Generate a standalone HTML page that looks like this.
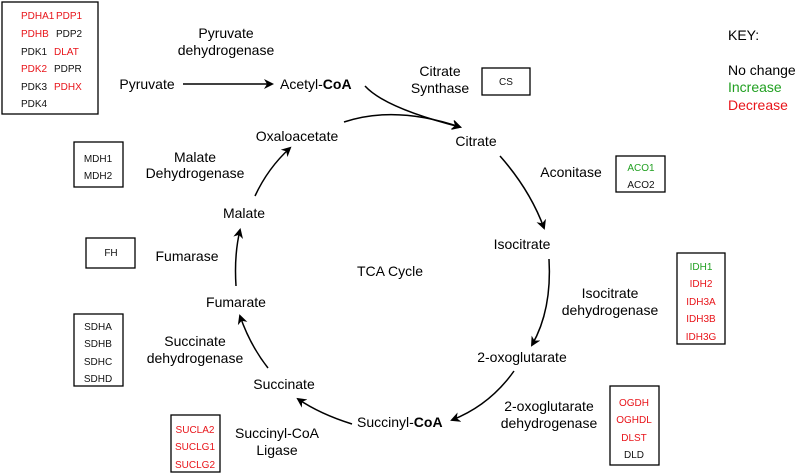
<!DOCTYPE html>
<html><head><style>
html,body{margin:0;padding:0;background:#fff;}
svg{display:block;font-family:"Liberation Sans",Arial,sans-serif;}
.t{font-size:14px;fill:#000;text-anchor:middle;}
.s{font-size:10px;text-anchor:middle;}
.r{fill:#e8141a;} .g{fill:#22a022;} .k{fill:#111;}
.box{fill:none;stroke:#000;stroke-width:1.3;}
.a{fill:none;stroke:#000;stroke-width:1.5;marker-end:url(#ah);}
</style></head><body>
<svg width="798" height="473" viewBox="0 0 798 473">
<defs><marker id="ah" markerWidth="10" markerHeight="10" refX="8" refY="5" orient="auto" markerUnits="userSpaceOnUse"><path d="M0,0 L10,5 L0,10 L3,5 Z" fill="#000"/></marker></defs>
<rect class="box" x="2" y="2" width="96" height="112"/>
<g class="s" style="text-anchor:start">
<text x="21" y="19" class="r">PDHA1</text><text x="56" y="19" class="r">PDP1</text>
<text x="21" y="37" class="r">PDHB</text><text x="56" y="37" class="k">PDP2</text>
<text x="21" y="55" class="k">PDK1</text><text x="54" y="55" class="r">DLAT</text>
<text x="21" y="72" class="r">PDK2</text><text x="54" y="72" class="k">PDPR</text>
<text x="21" y="90" class="k">PDK3</text><text x="54" y="90" class="r">PDHX</text>
<text x="21" y="107" class="k">PDK4</text>
</g>
<text class="t" x="226" y="38">Pyruvate</text>
<text class="t" x="226" y="55">dehydrogenase</text>
<text class="t" x="147" y="89">Pyruvate</text>
<line class="a" x1="183" y1="84" x2="272" y2="84"/>
<text class="t" x="280" y="89" style="text-anchor:start">Acetyl-<tspan font-weight="bold">CoA</tspan></text>
<path class="a" d="M365,86 Q385,108 460,127"/>
<path class="a" d="M344,122 Q395,105 460,127"/>
<text class="t" x="440" y="76">Citrate</text>
<text class="t" x="440" y="93">Synthase</text>
<rect class="box" x="482" y="68" width="48" height="27"/>
<text class="s k" x="506" y="85">CS</text>
<text class="t" x="476" y="146">Citrate</text>
<g style="font-size:14px">
<text x="728" y="40">KEY:</text>
<text x="728" y="75">No change</text>
<text x="728" y="92" fill="#22a022">Increase</text>
<text x="728" y="110" fill="#e8141a">Decrease</text>
</g>
<text class="t" x="571" y="177">Aconitase</text>
<rect class="box" x="616" y="156" width="49" height="36"/>
<text class="s g" x="641" y="171">ACO1</text>
<text class="s k" x="641" y="188">ACO2</text>
<path class="a" d="M500,156 Q530,190 544,228"/>
<text class="t" x="522" y="249">Isocitrate</text>
<text class="t" x="610" y="298">Isocitrate</text>
<text class="t" x="610" y="315">dehydrogenase</text>
<rect class="box" x="677" y="253" width="48" height="91"/>
<text class="s g" x="701" y="270">IDH1</text>
<text class="s r" x="701" y="287">IDH2</text>
<text class="s r" x="701" y="305">IDH3A</text>
<text class="s r" x="701" y="322">IDH3B</text>
<text class="s r" x="701" y="340">IDH3G</text>
<path class="a" d="M549,259 Q552,310 532,345"/>
<text class="t" x="522" y="362">2-oxoglutarate</text>
<path class="a" d="M514,371 Q490,405 452,420"/>
<text class="t" x="549" y="411">2-oxoglutarate</text>
<text class="t" x="549" y="428">dehydrogenase</text>
<rect class="box" x="610" y="386" width="49" height="79"/>
<text class="s r" x="634" y="406">OGDH</text>
<text class="s r" x="634" y="423">OGHDL</text>
<text class="s r" x="634" y="441">DLST</text>
<text class="s k" x="634" y="458">DLD</text>
<text class="t" x="357" y="427" style="text-anchor:start">Succinyl-<tspan font-weight="bold">CoA</tspan></text>
<path class="a" d="M352,424 Q320,414 298,399"/>
<text class="t" x="284" y="389">Succinate</text>
<text class="t" x="277" y="438">Succinyl-CoA</text>
<text class="t" x="277" y="455">Ligase</text>
<rect class="box" x="171" y="415" width="49" height="57"/>
<text class="s r" x="195" y="433">SUCLA2</text>
<text class="s r" x="195" y="450">SUCLG1</text>
<text class="s r" x="195" y="468">SUCLG2</text>
<path class="a" d="M268,368 Q250,345 240,316"/>
<text class="t" x="236" y="307">Fumarate</text>
<text class="t" x="195" y="346">Succinate</text>
<text class="t" x="195" y="363">dehydrogenase</text>
<rect class="box" x="74" y="314" width="49" height="72"/>
<text class="s k" x="98" y="330">SDHA</text>
<text class="s k" x="98" y="347">SDHB</text>
<text class="s k" x="98" y="365">SDHC</text>
<text class="s k" x="98" y="382">SDHD</text>
<path class="a" d="M236,286 Q234,255 240,230"/>
<text class="t" x="244" y="218">Malate</text>
<text class="t" x="187" y="261">Fumarase</text>
<rect class="box" x="86" y="238" width="49" height="30"/>
<text class="s k" x="111" y="256">FH</text>
<path class="a" d="M255,196 Q268,168 290,148"/>
<text class="t" x="297" y="141">Oxaloacetate</text>
<text class="t" x="195" y="162">Malate</text>
<text class="t" x="195" y="178">Dehydrogenase</text>
<rect class="box" x="74" y="142" width="49" height="45"/>
<text class="s k" x="98" y="162">MDH1</text>
<text class="s k" x="98" y="179">MDH2</text>
<text class="t" x="390" y="276">TCA Cycle</text>
</svg>
</body></html>
